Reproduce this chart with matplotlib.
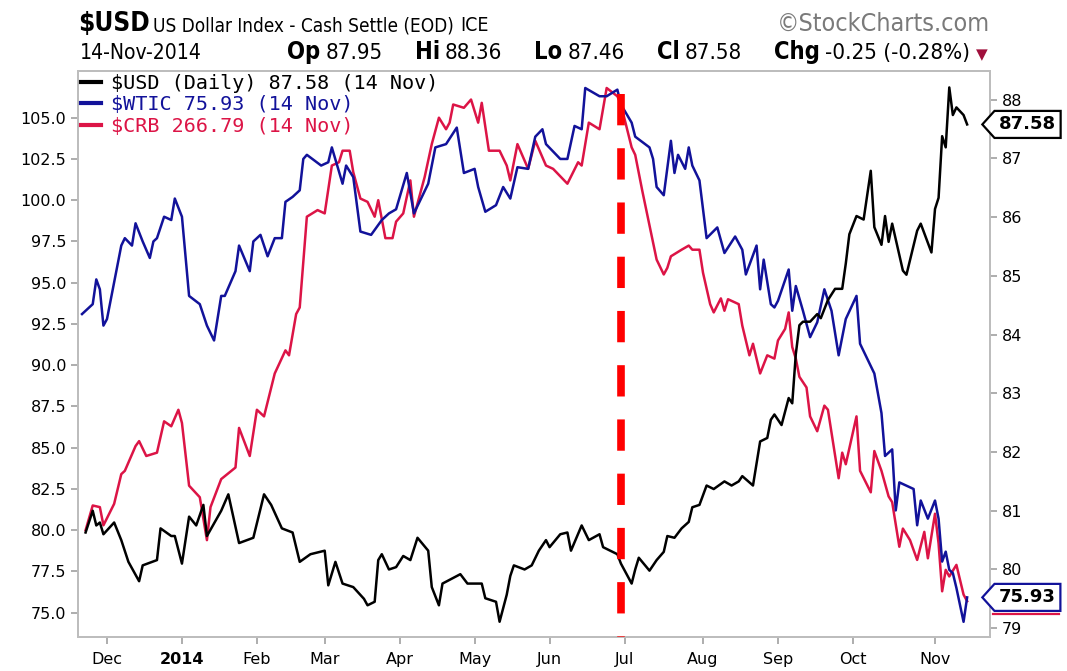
import os
import numpy as np
import pandas as pd
import matplotlib
matplotlib.use('Agg')
import matplotlib.pyplot as plt
from matplotlib import transforms
from matplotlib import font_manager as fm
from matplotlib.path import Path

# ---- data ----
wtic_dates = ['2013-11-20', '2013-11-25', '2013-11-26', '2013-11-27', '2013-11-29', '2013-12-02', '2013-12-06',
              '2013-12-09', '2013-12-11', '2013-12-12', '2013-12-16', '2013-12-18', '2013-12-19', '2013-12-20',
              '2013-12-24', '2013-12-27', '2013-12-30', '2014-01-02', '2014-01-06', '2014-01-09', '2014-01-13',
              '2014-01-15', '2014-01-17', '2014-01-21', '2014-01-24', '2014-01-27', '2014-01-30', '2014-01-31',
              '2014-02-04', '2014-02-06', '2014-02-10', '2014-02-12', '2014-02-13', '2014-02-18', '2014-02-20',
              '2014-02-21', '2014-02-24', '2014-02-28', '2014-03-04', '2014-03-05', '2014-03-10', '2014-03-11',
              '2014-03-13', '2014-03-17', '2014-03-20', '2014-03-25', '2014-03-27', '2014-03-31', '2014-04-03',
              '2014-04-07', '2014-04-11', '2014-04-15', '2014-04-21', '2014-04-24', '2014-04-28', '2014-05-01',
              '2014-05-02', '2014-05-06', '2014-05-09', '2014-05-13', '2014-05-15', '2014-05-19', '2014-05-22',
              '2014-05-27', '2014-05-29', '2014-05-30', '2014-06-05', '2014-06-09', '2014-06-11', '2014-06-13',
              '2014-06-16', '2014-06-20', '2014-06-24', '2014-06-27', '2014-06-30', '2014-07-03', '2014-07-07',
              '2014-07-11', '2014-07-14', '2014-07-15', '2014-07-17', '2014-07-21', '2014-07-22', '2014-07-23',
              '2014-07-25', '2014-07-28', '2014-07-29', '2014-07-31', '2014-08-04', '2014-08-07', '2014-08-11',
              '2014-08-14', '2014-08-18', '2014-08-19', '2014-08-22', '2014-08-25', '2014-08-26', '2014-08-28',
              '2014-08-29', '2014-09-02', '2014-09-05', '2014-09-08', '2014-09-09', '2014-09-11', '2014-09-15',
              '2014-09-17', '2014-09-19', '2014-09-23', '2014-09-25', '2014-09-29', '2014-10-02', '2014-10-03',
              '2014-10-07', '2014-10-09', '2014-10-13', '2014-10-14', '2014-10-16', '2014-10-17', '2014-10-20',
              '2014-10-24', '2014-10-27', '2014-10-28', '2014-10-30', '2014-11-03', '2014-11-04', '2014-11-05',
              '2014-11-06', '2014-11-07', '2014-11-10', '2014-11-11', '2014-11-13', '2014-11-14']
wtic_vals = [93.1, 93.7, 95.2, 94.6, 92.4, 92.8, 97.25,
             97.7, 97.25, 98.6, 97.5, 96.5, 97.5, 97.7,
             99.0, 98.8, 100.1, 99.0, 94.2, 93.7, 92.4,
             91.5, 94.2, 94.2, 95.7, 97.25, 95.7, 97.5,
             97.9, 96.6, 97.7, 97.7, 99.9, 100.2, 100.6,
             102.5, 102.75, 102.1, 102.3, 103.2, 101.0, 102.1,
             101.4, 98.1, 97.9, 98.8, 99.2, 99.45, 101.65,
             99.2, 101.0, 103.2, 103.4, 104.4, 101.65, 101.9,
             100.8, 99.3, 99.7, 100.8, 100.1, 102.0, 101.9,
             103.85, 104.3, 103.4, 102.5, 102.5, 104.5, 104.3,
             106.8, 106.3, 106.3, 106.7, 105.8, 104.7, 103.85,
             103.2, 102.5, 100.8, 100.3, 103.6, 101.65, 102.75,
             101.9, 103.2, 102.1, 101.2, 97.7, 98.35, 96.8,
             97.8, 97.0, 95.5, 97.25, 94.6, 96.4, 93.7,
             93.5, 93.9, 95.8, 93.3, 94.8, 93.3, 91.7,
             92.6, 94.6, 93.3, 90.6, 92.8, 94.2, 91.3,
             90.4, 89.5, 87.1, 84.5, 84.9, 81.2, 82.9,
             82.5, 80.3, 81.8, 80.7, 81.8, 80.7, 78.1,
             78.7, 77.6, 77.4, 76.5, 74.45, 75.93]

# $CRB is drawn as an overlay on the left scale, values as plotted
crb_dates = ['2013-11-21', '2013-11-25', '2013-11-27', '2013-11-29', '2013-12-04', '2013-12-06', '2013-12-09',
             '2013-12-12', '2013-12-13', '2013-12-17', '2013-12-20', '2013-12-24', '2013-12-27', '2013-12-31',
             '2014-01-02', '2014-01-06', '2014-01-09', '2014-01-13', '2014-01-14', '2014-01-17', '2014-01-24',
             '2014-01-27', '2014-01-30', '2014-02-03', '2014-02-05', '2014-02-10', '2014-02-13', '2014-02-14',
             '2014-02-19', '2014-02-20', '2014-02-24', '2014-02-27', '2014-03-03', '2014-03-05', '2014-03-07',
             '2014-03-10', '2014-03-12', '2014-03-13', '2014-03-17', '2014-03-19', '2014-03-21', '2014-03-24',
             '2014-03-26', '2014-03-28', '2014-03-31', '2014-04-02', '2014-04-04', '2014-04-07', '2014-04-10',
             '2014-04-14', '2014-04-16', '2014-04-21', '2014-04-22', '2014-04-23', '2014-04-28', '2014-04-30',
             '2014-05-02', '2014-05-05', '2014-05-07', '2014-05-12', '2014-05-14', '2014-05-15', '2014-05-19',
             '2014-05-22', '2014-05-27', '2014-05-30', '2014-06-03', '2014-06-09', '2014-06-12', '2014-06-13',
             '2014-06-17', '2014-06-20', '2014-06-24', '2014-06-27', '2014-06-30', '2014-07-03', '2014-07-07',
             '2014-07-09', '2014-07-15', '2014-07-17', '2014-07-18', '2014-07-21', '2014-07-24', '2014-07-28',
             '2014-07-29', '2014-07-31', '2014-08-01', '2014-08-05', '2014-08-06', '2014-08-08', '2014-08-11',
             '2014-08-12', '2014-08-15', '2014-08-18', '2014-08-20', '2014-08-21', '2014-08-25', '2014-08-27',
             '2014-08-29', '2014-09-02', '2014-09-04', '2014-09-05', '2014-09-08', '2014-09-09', '2014-09-10',
             '2014-09-12', '2014-09-15', '2014-09-17', '2014-09-19', '2014-09-22', '2014-09-25', '2014-09-26',
             '2014-09-29', '2014-10-02', '2014-10-03', '2014-10-08', '2014-10-09', '2014-10-13', '2014-10-15',
             '2014-10-16', '2014-10-20', '2014-10-21', '2014-10-23', '2014-10-27', '2014-10-29', '2014-10-30',
             '2014-11-03', '2014-11-04', '2014-11-05', '2014-11-06', '2014-11-07', '2014-11-11', '2014-11-13',
             '2014-11-14']
crb_vals = [80.0, 81.5, 81.4, 80.3, 81.6, 83.4, 83.6,
            85.1, 85.4, 84.5, 84.7, 86.6, 86.3, 87.3,
            86.5, 82.7, 82.0, 79.4, 81.4, 83.1, 83.8,
            86.2, 84.5, 87.3, 86.9, 89.5, 90.9, 90.6,
            93.1, 93.5, 99.0, 99.4, 99.2, 102.1, 102.3,
            103.0, 103.0, 101.7, 100.1, 99.9, 99.0, 100.0,
            97.7, 97.7, 98.7, 99.2, 101.2, 99.0, 101.4,
            103.4, 105.0, 104.3, 104.7, 105.8, 105.6, 106.1,
            104.7, 105.9, 103.0, 103.0, 102.1, 101.2, 103.4,
            101.9, 103.6, 102.1, 101.9, 101.0, 102.3, 102.1,
            104.7, 104.3, 106.8, 106.3, 105.8, 103.2, 102.75,
            100.55, 96.4, 95.5, 95.9, 96.6, 97.0, 97.25,
            97.0, 97.0, 95.6, 93.7, 93.2, 94.05, 93.3,
            94.0, 93.7, 92.4, 90.6, 91.3, 89.5, 90.6,
            90.4, 91.5, 92.2, 93.2, 91.1, 90.4, 89.3,
            88.65, 86.9, 86.0, 87.55, 87.3, 83.15, 84.7,
            84.0, 86.9, 83.6, 82.3, 84.8, 83.6, 82.05,
            81.7, 79.0, 80.1, 79.4, 78.2, 79.9, 78.3,
            81.0, 79.2, 76.3, 77.6, 77.2, 77.9, 76.1,
            75.7]

usd_dates = ['2013-11-21', '2013-11-25', '2013-11-26', '2013-11-27', '2013-11-29', '2013-12-04', '2013-12-06',
             '2013-12-10', '2013-12-13', '2013-12-16', '2013-12-20', '2013-12-23', '2013-12-27', '2013-12-30',
             '2014-01-02', '2014-01-06', '2014-01-08', '2014-01-10', '2014-01-13', '2014-01-17', '2014-01-22',
             '2014-01-27', '2014-01-31', '2014-02-05', '2014-02-07', '2014-02-12', '2014-02-18', '2014-02-20',
             '2014-02-25', '2014-03-03', '2014-03-04', '2014-03-06', '2014-03-10', '2014-03-13', '2014-03-18',
             '2014-03-19', '2014-03-21', '2014-03-24', '2014-03-25', '2014-03-27', '2014-03-31', '2014-04-02',
             '2014-04-04', '2014-04-08', '2014-04-11', '2014-04-14', '2014-04-16', '2014-04-17', '2014-04-25',
             '2014-04-29', '2014-05-05', '2014-05-06', '2014-05-09', '2014-05-12', '2014-05-14', '2014-05-15',
             '2014-05-16', '2014-05-21', '2014-05-23', '2014-05-28', '2014-05-30', '2014-06-02', '2014-06-05',
             '2014-06-09', '2014-06-10', '2014-06-13', '2014-06-17', '2014-06-20', '2014-06-23', '2014-06-27',
             '2014-06-30', '2014-07-03', '2014-07-07', '2014-07-08', '2014-07-11', '2014-07-15', '2014-07-17',
             '2014-07-18', '2014-07-22', '2014-07-24', '2014-07-28', '2014-07-29', '2014-07-31', '2014-08-04',
             '2014-08-06', '2014-08-11', '2014-08-13', '2014-08-15', '2014-08-18', '2014-08-21', '2014-08-25',
             '2014-08-27', '2014-08-28', '2014-08-29', '2014-09-03', '2014-09-05', '2014-09-08', '2014-09-09',
             '2014-09-10', '2014-09-11', '2014-09-15', '2014-09-17', '2014-09-18', '2014-09-22', '2014-09-24',
             '2014-09-26', '2014-09-29', '2014-09-30', '2014-10-02', '2014-10-06', '2014-10-08', '2014-10-09',
             '2014-10-13', '2014-10-14', '2014-10-15', '2014-10-16', '2014-10-21', '2014-10-22', '2014-10-27',
             '2014-10-28', '2014-10-31', '2014-11-03', '2014-11-04', '2014-11-05', '2014-11-06', '2014-11-07',
             '2014-11-10', '2014-11-11', '2014-11-13', '2014-11-14']
usd_vals = [80.63, 81.0, 80.75, 80.8, 80.6, 80.8, 80.5,
            80.13, 79.8, 80.07, 80.16, 80.7, 80.57, 80.57,
            80.1, 80.9, 80.75, 81.1, 80.57, 81.0, 81.28,
            80.45, 80.54, 81.28, 81.1, 80.7, 80.63, 80.13,
            80.26, 80.32, 79.73, 80.13, 79.76, 79.7, 79.5,
            79.39, 79.45, 80.16, 80.26, 80.0, 80.04, 80.23,
            80.16, 80.54, 80.32, 79.7, 79.39, 79.76, 79.92,
            79.76, 79.76, 79.51, 79.45, 79.11, 79.57, 79.89,
            80.07, 80.0, 80.07, 80.32, 80.5, 80.38, 80.6,
            80.63, 80.32, 80.75, 80.5, 80.6, 80.38, 80.26,
            80.1, 79.76, 80.0, 80.2, 79.98, 80.16, 80.3,
            80.57, 80.54, 80.7, 80.81, 81.06, 81.1, 81.43,
            81.37, 81.5, 81.43, 81.5, 81.59, 81.43, 82.18,
            82.24, 82.55, 82.64, 82.46, 82.92, 82.83, 83.67,
            84.16, 84.22, 84.22, 84.35, 84.28, 84.59, 84.78,
            84.78, 85.21, 85.71, 86.02, 85.96, 86.79, 85.83,
            85.53, 86.02, 85.58, 85.89, 85.09, 85.02, 85.77,
            85.89, 85.4, 86.14, 86.33, 87.38, 87.19, 88.21,
            87.74, 87.87, 87.74, 87.58]

month_labels = ['Dec', '2014', 'Feb', 'Mar', 'Apr', 'May', 'Jun', 'Jul', 'Aug', 'Sep', 'Oct', 'Nov']
holidays = ['2013-11-28', '2013-12-25', '2014-01-01', '2014-01-20', '2014-02-17',
            '2014-04-18', '2014-05-26', '2014-07-04', '2014-09-01']
quote = [('Op', '87.95'), ('Hi', '88.36'), ('Lo', '87.46'), ('Cl', '87.58'), ('Chg', '-0.25 (-0.28%)')]

# trading-day x axis (no weekend gaps, like the original)
days = pd.bdate_range('2013-11-18', '2014-11-28')
days = days[~days.isin(pd.to_datetime(holidays))]


def pos(d):
    return days.searchsorted(pd.to_datetime(d))


# a narrow face for the header if one is installed
def pick_narrow():
    for fam, st in [('Liberation Sans Narrow', 'normal'), ('DejaVu Sans', 'condensed'),
                    ('Noto Sans', 'condensed'), ('Open Sans', 'condensed'), ('Roboto', 'condensed')]:
        try:
            f = fm.findfont(fm.FontProperties(family=fam, stretch=st), fallback_to_default=False)
        except Exception:
            continue
        name = os.path.basename(f).lower()
        if 'narrow' in name or 'cond' in name:
            return fam, st
    return 'Liberation Sans', 'normal'


nfam, nstretch = pick_narrow()

W, H = 1067, 671
fig = plt.figure(figsize=(W / 100, H / 100), dpi=100)
ax = fig.add_axes([78 / W, 1 - 637 / H, (990 - 78) / W, (637 - 71) / H])
ax2 = ax.twinx()

c_usd, c_wtic, c_crb = '#000000', '#12129a', '#dc1446'
lw = 1.8
ax.plot(pos(crb_dates), crb_vals, color=c_crb, lw=lw, label='$CRB 266.79 (14 Nov)')
ax.plot(pos(wtic_dates), wtic_vals, color=c_wtic, lw=lw, label='$WTIC 75.93 (14 Nov)')
ax2.plot(pos(usd_dates), usd_vals, color=c_usd, lw=lw, label='$USD (Daily) 87.58 (14 Nov)')

# x scale: ~3.57 px per session, Dec 2 at the first tick
x0 = pos(['2013-12-02'])[0]
ppd = 3.569
left = x0 - 29 / ppd
ax.set_xlim(left, left + 912 / ppd)
ax.set_ylim(73.53, 107.83)
ax2.set_ylim(78.85, 88.49)

mstarts = pd.date_range('2013-12-01', '2014-11-01', freq='MS')
ax.set_xticks(days.searchsorted(mstarts))
ax.set_xticklabels(month_labels)
ax.get_xticklabels()[1].set_fontweight('bold')
ax.set_yticks(np.arange(75, 105.1, 2.5))
ax.set_yticklabels(['%.1f' % v for v in np.arange(75, 105.1, 2.5)])
ax2.set_yticks(np.arange(79, 88.1, 1))

grey = '#bdbdbd'
for a in (ax, ax2):
    for s in a.spines.values():
        s.set_color(grey)
        s.set_linewidth(1.4)
    a.tick_params(colors='#a0a0a0', labelcolor='black', length=5, width=1.2, labelsize=11.5)
ax.tick_params(axis='x', pad=6)
for t in ax.get_xticklabels() + ax.get_yticklabels() + ax2.get_yticklabels():
    t.set_family('DejaVu Sans')

# hand drawn red dashed marker
jx = pos(['2014-06-30'])[0]
ax2.plot([jx, jx], [0.96, 0.0], transform=transforms.blended_transform_factory(ax2.transData, ax2.transAxes),
         color='#ff0000', lw=5.5, dashes=(4.1, 3.0), dash_capstyle='butt', zorder=10,
         scalex=False, scaley=False)

# legend top left
h1, l1 = ax.get_legend_handles_labels()
h2, l2 = ax2.get_legend_handles_labels()
leg = ax2.legend(h2 + h1[::-1], l2 + l1[::-1], loc='upper left', frameon=False,
                 prop={'family': 'DejaVu Sans Mono', 'size': 14.5}, handlelength=1.0, handletextpad=0.5,
                 borderaxespad=0.0, borderpad=0.15, labelspacing=0.12)
for txt, col in zip(leg.get_texts(), [c_usd, c_wtic, c_crb]):
    txt.set_color(col)
for ln in leg.get_lines():
    ln.set_linewidth(3)


# last value tags on the right axis
def tag_shape(x0, y0, width, height, mutation_size):
    pad = 0.25 * mutation_size
    x0, y0 = x0 - pad, y0 - pad
    w, h = width + 2 * pad, height + 2 * pad
    tip = 0.45 * h
    verts = [(x0 - tip, y0 + h / 2), (x0, y0), (x0 + w, y0), (x0 + w, y0 + h),
             (x0, y0 + h), (x0 - tip, y0 + h / 2)]
    return Path(verts, closed=True)


tx = (999 - 78) / 912
tr_l = transforms.blended_transform_factory(ax.transAxes, ax.transData)
tr_r = transforms.blended_transform_factory(ax2.transAxes, ax2.transData)
tagfont = dict(family='DejaVu Sans', fontweight='bold', fontsize=13, va='center', ha='left', clip_on=False)
# the $CRB tag sits under the $WTIC one, only its lower edge shows
crb_edge = transforms.offset_copy(tr_l, fig=fig, y=-12.5, units='dots')
ax2.plot([(993 - 78) / 912, (1059 - 78) / 912], [crb_vals[-1]] * 2, transform=crb_edge,
         color=c_crb, lw=1.6, clip_on=False, zorder=19)
ax2.text(tx, wtic_vals[-1], '%.2f' % wtic_vals[-1], transform=tr_l, color='black', zorder=21,
         bbox=dict(boxstyle=tag_shape, fc='white', ec=c_wtic, lw=1.6), **tagfont)
ax2.text(tx, usd_vals[-1], '%.2f' % usd_vals[-1], transform=tr_r, color='black', zorder=21,
         bbox=dict(boxstyle=tag_shape, fc='white', ec='black', lw=1.6), **tagfont)

# header
r = fig.canvas.get_renderer()


def head(px, py, s, size, maxw=None, **kw):
    kw.setdefault('family', nfam)
    kw.setdefault('fontstretch', nstretch)
    t = fig.text(px / W, 1 - py / H, s, fontsize=size, va='baseline', **kw)
    w = t.get_window_extent(r).width
    if maxw and w > maxw:
        t.set_fontsize(size * maxw / w)
    return t


head(78, 31, '$USD', 23, 72, fontweight='bold')
title = head(153, 31, 'US Dollar Index - Cash Settle (EOD)', 18, 300)
tend = 153 + title.get_window_extent(r).width
head(tend + 6, 31, 'ICE', 14, 30)
head(990, 31, '©StockCharts.com', 18, 215, color='#7a7a7a', ha='right')
head(80, 59, '14-Nov-2014', 16, 122)

# quote row laid out from left to right, gaps share the free space
parts = []
for lab, val in quote:
    parts.append(head(0, 59, lab, 17, fontweight='bold'))
    parts.append(head(0, 59, val, 16))
widths = [p.get_window_extent(r).width for p in parts]
inner = 5
x_start, x_end = 287, 970
gap = (x_end - x_start - sum(widths) - inner * len(quote)) / (len(quote) - 1)
if gap < 12:
    k = (x_end - x_start - inner * len(quote) - 12 * (len(quote) - 1)) / sum(widths)
    for p in parts:
        p.set_fontsize(p.get_fontsize() * k)
    widths = [w * k for w in widths]
    gap = 12
cx = x_start
for i, p in enumerate(parts):
    p.set_x(cx / W)
    cx += widths[i] + (inner if i % 2 == 0 else gap)
fig.text(976 / W, 1 - 59 / H, '▼', fontsize=11, color='#a0103c', family=['DejaVu Sans'], va='baseline')

fig.savefig('out.png', dpi=100, facecolor='white')
